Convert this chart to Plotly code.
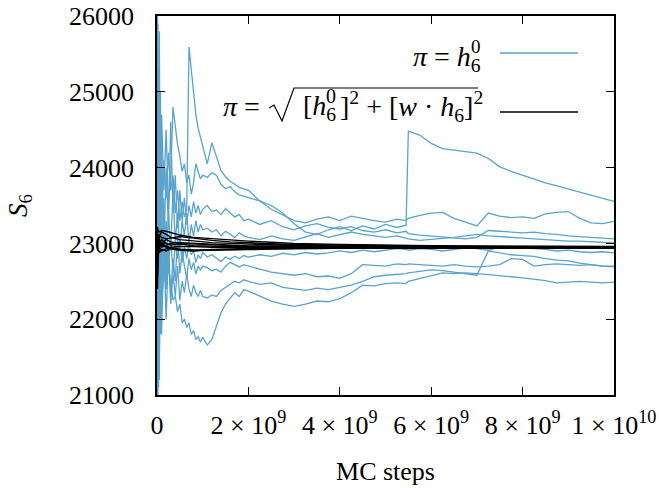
import plotly.graph_objects as go

# ---- data (x in units of 1e9 MC steps) ----
STEPS_BLUE_E9 = [0, 0.01, 0.02, 0.035, 0.05, 0.075, 0.1,
                 0.15, 0.2, 0.25, 0.3, 0.35, 0.4, 0.45, 0.5, 0.55, 0.6, 0.65, 0.7, 0.75, 0.8, 0.85, 0.9, 0.95, 1.0,
                 1.1, 1.2, 1.3, 1.4, 1.5, 1.6, 1.7, 1.8, 1.9, 2.0,
                 2.25, 2.5, 2.75, 3.0, 3.25, 3.5, 3.75, 4.0, 4.25, 4.5, 4.75, 5.0, 5.25,
                 5.45,
                 5.5, 5.75, 6.0, 6.25, 6.5, 6.75, 7.0, 7.25, 7.5, 7.75, 8.0, 8.25, 8.5, 8.75, 9.0, 9.25, 9.5, 9.75, 10.0]

blue_a = [23000, 24600, 22200, 25300, 23500, 24400, 23300,
          24100, 23600, 24200, 23700, 23900, 23400, 23700, 23300, 23550, 23350, 23450, 25590, 25300, 24950, 24700, 24520, 24400, 24250,
          24050, 24330, 24130, 23960, 23880, 23820, 23780, 23740, 23720, 23700,
          23560, 23500, 23400, 23260, 23150, 23120, 23180, 23220, 23170, 23230, 23190, 23250, 23210,
          23240,
          24480, 24430, 24320, 24250, 24230, 24210, 24190, 24120, 24010, 23950, 23900, 23840, 23800, 23760, 23720, 23670, 23640, 23590, 23555]
blue_b = [22900, 26200, 23800, 21500, 25800, 23200, 24700,
          23700, 24500, 23500, 23900, 24800, 24550, 24300, 24150, 23950, 24050, 23800, 23900, 23650, 23800, 24050, 23950, 23850, 23900,
          23870, 23930, 23900, 23780, 23720, 23750, 23680, 23640, 23620, 23600,
          23560, 23450, 23380, 23300, 23270, 23320, 23350, 23300, 23360, 23330, 23300, 23280, 23320,
          23300,
          23330, 23370, 23400, 23410, 23330, 23280, 23230, 23400, 23360, 23340, 23350, 23330, 23390, 23410, 23420, 23330, 23270, 23260, 23290]
blue_c = [23100, 21000, 25900, 22300, 24900, 22700, 24300,
          22900, 24000, 23200, 24600, 23400, 23900, 23200, 23700, 23300, 23600, 23250, 23500, 23350, 23550, 23400, 23500, 23380, 23450,
          23500, 23420, 23440, 23380, 23460, 23400, 23350, 23380, 23300, 23320,
          23250, 23300, 23220, 23180, 23230, 23260, 23210, 23190, 23220, 23170, 23150, 23180, 23140,
          23160,
          23130, 23110, 23100, 23090, 23070, 23060, 23080, 23170, 23160, 23150, 23140, 23150, 23130, 23120, 23100, 23090, 23080, 23070, 23060]
blue_d = [22800, 23900, 21200, 24100, 22400, 25000, 22700,
          23600, 22600, 23400, 22900, 23700, 23000, 23400, 22900, 23300, 23100, 23400, 23000, 23250, 23100, 23300, 23150, 23250, 23180,
          23200, 23150, 23180, 23100, 23160, 23120, 23080, 23140, 23100, 23080,
          23050, 23100, 23060, 23040, 23090, 23130, 23080, 23110, 23150, 23120, 23100, 23080, 23100,
          23070,
          23060, 23040, 23050, 23060, 23080, 23100, 23120, 23100, 23090, 23080, 23070, 23060, 23050, 23040, 23030, 23030, 23020, 23010, 23005]
blue_e = [23200, 22100, 24800, 22000, 23700, 21800, 23400,
          22500, 23300, 22700, 23100, 22600, 23000, 22800, 23050, 22750, 22950, 22800, 23000, 22850, 22900, 22750, 22850, 22800, 22880,
          22820, 22850, 22800, 22760, 22820, 22790, 22830, 22800, 22840, 22820,
          22850, 22830, 22870, 22850, 22880, 22860, 22875, 22900, 22880, 22910, 22890, 22910, 22930,
          22920,
          22910, 22930, 22920, 22900, 22920, 22940, 22930, 22910, 22950, 22960, 22940, 22930, 22920, 22900, 22910, 22890, 22880, 22890, 22875]
blue_f = [22700, 25200, 22500, 23300, 21400, 23600, 22200,
          23200, 22400, 23000, 22300, 22800, 22500, 23100, 22600, 22900, 22700, 22550, 22800, 22650, 22750, 22600, 22700, 22650, 22700,
          22680, 22640, 22660, 22620, 22700, 22750, 22720, 22690, 22720, 22700,
          22660, 22620, 22600, 22580, 22600, 22560, 22570, 22540, 22600, 22720, 22710, 22700, 22730,
          22720,
          22730, 22720, 22710, 22700, 22720, 22700, 22690, 22700, 22720, 22800, 22790, 22700, 22720, 22730, 22720, 22710, 22720, 22700, 22700]
blue_g = [23000, 21900, 24200, 21100, 22800, 24000, 21800,
          23000, 22000, 22900, 22200, 22600, 22300, 22700, 22250, 22500, 22350, 22600, 22400, 22300, 22450, 22350, 22300, 22380, 22300,
          22280, 22320, 22300, 22380, 22420, 22460, 22500, 22480, 22520, 22500,
          22460, 22480, 22420, 22400, 22380, 22410, 22390, 22420, 22450, 22500, 22560, 22580, 22590,
          22600,
          22610, 22630, 22650, 22640, 22620, 22600, 22580, 22900, 22870, 22850, 22840, 22830, 22800, 22780, 22770, 22740, 22720, 22700, 22690]
blue_h = [22600, 23300, 21000, 22700, 21200, 22900, 22100,
          22700, 22400, 22690, 22480, 22250, 22300, 22100, 22200, 21950, 22000, 21890, 21950, 21800, 21850, 21730, 21770, 21700, 21760,
          21660, 21730, 21900, 22085, 22200, 22280, 22350, 22300, 22390, 22370,
          22300, 22240, 22200, 22170, 22200, 22240, 22230, 22270, 22350, 22450, 22440, 22470, 22480,
          22470,
          22500, 22540, 22580, 22610, 22600, 22610, 22600, 22590, 22580, 22560, 22545, 22530, 22510, 22480, 22490, 22500, 22490, 22480, 22490]
BLUE_SERIES = [blue_a, blue_b, blue_c, blue_d, blue_e, blue_f, blue_g, blue_h]

STEPS_BLACK_E9 = [0.0, 0.01, 0.02, 0.05, 0.1, 0.2, 0.3, 0.5, 0.8, 1.2, 1.6, 2.0, 2.5, 3.0, 4.0, 5.0, 6.0, 7.0, 8.0, 9.0, 10.0]
black_1 = [22400, 22500, 22700, 23100, 23150, 23120, 23080, 23050, 23030, 23010, 23000, 22990, 22980, 22972, 22965, 22960, 22958, 22956, 22955, 22955, 22955]
black_2 = [23000, 23200, 23180, 23150, 23170, 23160, 23140, 23110, 23080, 23060, 23040, 23030, 23015, 23000, 22985, 22975, 22970, 22966, 22964, 22962, 22960]
black_3 = [22800, 22600, 23050, 22950, 22900, 22920, 22950, 22960, 22960, 22950, 22945, 22945, 22946, 22946, 22945, 22944, 22944, 22943, 22943, 22943, 22943]
black_4 = [23100, 23220, 22900, 23000, 23050, 23000, 22980, 22990, 22970, 22960, 22955, 22955, 22950, 22947, 22946, 22946, 22947, 22947, 22947, 22946, 22946]
black_5 = [22700, 22900, 22950, 22880, 22920, 22900, 22930, 22910, 22900, 22920, 22928, 22932, 22934, 22936, 22937, 22937, 22938, 22938, 22938, 22938, 22938]
black_6 = [23050, 22950, 23120, 23100, 23080, 23060, 23070, 23090, 23070, 23040, 23020, 23005, 22995, 22985, 22975, 22968, 22964, 22961, 22959, 22958, 22958]
black_7 = [22600, 22400, 22900, 23000, 22950, 22980, 23000, 23010, 23000, 22985, 22975, 22968, 22962, 22958, 22954, 22952, 22951, 22950, 22950, 22950, 22950]
black_8 = [22900, 23100, 22850, 22950, 22980, 22950, 22940, 22925, 22915, 22915, 22912, 22918, 22925, 22930, 22934, 22936, 22938, 22939, 22940, 22940, 22940]
black_9 = [23150, 23050, 23000, 22950, 23000, 23050, 23020, 23000, 22990, 22980, 22970, 22962, 22958, 22956, 22953, 22952, 22951, 22951, 22951, 22951, 22951]
black_10 = [22500, 22800, 23100, 23050, 23000, 22960, 22940, 22920, 22905, 22910, 22918, 22925, 22930, 22934, 22938, 22940, 22942, 22943, 22944, 22944, 22944]
BLACK_SERIES = [black_1, black_2, black_3, black_4, black_5, black_6, black_7, black_8, black_9, black_10]

X_TICKS_E9 = [0, 2, 4, 6, 8, 10]
X_TICK_TEXT = ["0", "2 × 10<sup>9</sup>", "4 × 10<sup>9</sup>", "6 × 10<sup>9</sup>",
               "8 × 10<sup>9</sup>", "1 × 10<sup>10</sup>"]
Y_TICKS = [21000, 22000, 23000, 24000, 25000, 26000]

BLUE = "#5aa3cb"
FONT = "Liberation Serif"
LEG = 28

# plot area in page pixels (for placing the hand-drawn gnuplot-style key)
L, R, T, B = 157, 614, 16, 395


def px(x):
    return (x - L) / (R - L)


def py(y):
    return (B - y) / (B - T)


fig = go.Figure()
xb = [v * 1e9 for v in STEPS_BLUE_E9]
for ys in BLUE_SERIES:
    fig.add_trace(go.Scatter(x=xb, y=ys, mode="lines", line=dict(color=BLUE, width=1.3),
                             showlegend=False, hoverinfo="skip"))
xk = [v * 1e9 for v in STEPS_BLACK_E9]
for ys in BLACK_SERIES:
    fig.add_trace(go.Scatter(x=xk, y=ys, mode="lines", line=dict(color="black", width=1.4),
                             showlegend=False, hoverinfo="skip"))

axis_common = dict(showline=True, linecolor="black", linewidth=1.5, mirror="allticks",
                   ticks="inside", ticklen=8, tickwidth=1, tickcolor="black",
                   showgrid=False, zeroline=False, automargin=False,
                   tickfont=dict(family=FONT, size=26, color="black"))

fig.update_xaxes(range=[0, 1e10], tickvals=[v * 1e9 for v in X_TICKS_E9], ticktext=X_TICK_TEXT,
                 ticklabelstandoff=6,
                 title=dict(text="MC steps", font=dict(family=FONT, size=26, color="black"), standoff=23),
                 **axis_common)
fig.update_yaxes(range=[21000, 26000], tickvals=Y_TICKS, tickformat="d", ticklabelstandoff=16,
                 title=dict(text="<i>S</i><sub>6</sub>", font=dict(family=FONT, size=27, color="black"), standoff=34),
                 **axis_common)


def note(x, y, text, anchor, size=LEG):
    fig.add_annotation(xref="paper", yref="paper", x=px(x), y=py(y), xanchor=anchor, yanchor="middle",
                       text=text, showarrow=False, font=dict(family=FONT, size=size, color="black"))


# key entry 1
note(483, 58, "<i>π</i> = <i>h</i><sub>6</sub>", "right")
note(483, 46, "0", "right", 19)
fig.add_shape(type="line", xref="paper", yref="paper", x0=px(500), x1=px(578), y0=py(53), y1=py(53),
              line=dict(color=BLUE, width=1.3))

# key entry 2
note(262, 106, "<i>π</i> =", "right")
fig.add_shape(type="path", xref="paper", yref="paper",
              path="M {},{} L {},{} L {},{} L {},{} L {},{}".format(
                  px(269), py(108), px(274), py(105), px(282), py(121), px(294), py(88), px(478), py(88)),
              line=dict(color="black", width=1.2))
note(338, 108, "[<i>h</i><sub>6</sub>", "right")
note(338, 96, "0", "right", 20)
note(338, 106, "]<sup>2</sup> + [<i>w</i> · <i>h</i><sub>6</sub>]<sup>2</sup>", "left")
fig.add_shape(type="line", xref="paper", yref="paper", x0=px(500), x1=px(578), y0=py(112), y1=py(112),
              line=dict(color="black", width=1.5))

fig.update_layout(width=659, height=488, margin=dict(l=L, r=659 - R, t=T, b=488 - B),
                  paper_bgcolor="white", plot_bgcolor="white",
                  font=dict(family=FONT, color="black"))

fig.write_html("out.html")
